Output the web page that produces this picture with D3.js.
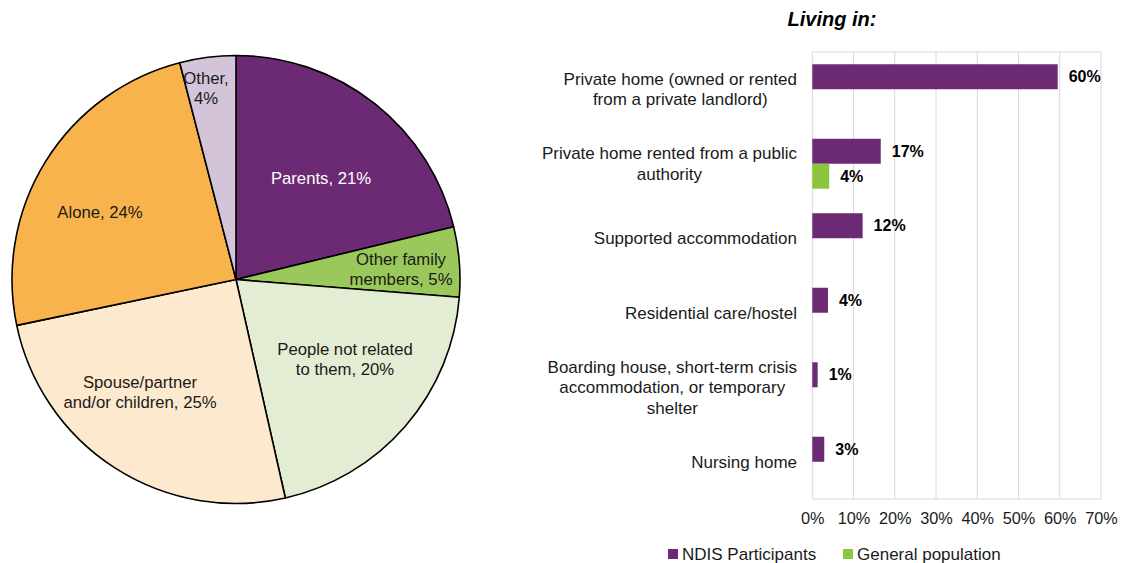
<!DOCTYPE html>
<html>
<head>
<meta charset="utf-8">
<script src="https://cdn.jsdelivr.net/npm/d3@7"></script>
<style>
  html, body { margin: 0; padding: 0; background: #fff; }
  svg { display: block; font-family: "Liberation Sans", Arial, sans-serif; }
</style>
</head>
<body>
<svg id="chart" width="1121" height="563"></svg>
<script>
// ---- Pie data ----
const pieLabels = [["Parents, 21%"], ["Other family", "members, 5%"], ["People not related", "to them, 20%"], ["Spouse/partner", "and/or children, 25%"], ["Alone, 24%"], ["Other,", "4%"]];
const pieValues = [21, 5, 20, 25, 24, 4];
const pieColors = ["#6B2A73", "#9BC85A", "#E3EDD4", "#FDE9CD", "#F9B34C", "#D4C4DA"];
const pieTextColors = ["#ffffff", "#1a1a1a", "#1a1a1a", "#1a1a1a", "#1a1a1a", "#1a1a1a"];

// ---- Bar data ----
const barCategories = [
  ["Private home (owned or rented", "from a private landlord)"],
  ["Private home rented from a public", "authority"],
  ["Supported accommodation"],
  ["Residential care/hostel"],
  ["Boarding house, short-term crisis", "accommodation, or temporary", "shelter"],
  ["Nursing home"]
];
const seriesNames = ["NDIS Participants", "General population"];
const ndisValues = [59.5, 16.6, 12.2, 3.8, 1.3, 2.9];
const generalValues = [null, 4.1, null, null, null, null];
const seriesColors = ["#6B2A73", "#8CC63F"];
const xTicks = [0, 10, 20, 30, 40, 50, 60, 70];
const chartTitle = "Living in:";

const svg = d3.select("#chart");

// ---------- PIE ----------
const cx = 236, cy = 279.5, R = 224;
const pie = d3.pie().sort(null).value(d => d)(pieValues);
const arc = d3.arc().innerRadius(0).outerRadius(R);
const gPie = svg.append("g").attr("transform", `translate(${cx},${cy})`);
gPie.selectAll("path").data(pie).join("path")
  .attr("d", arc)
  .attr("fill", (d, i) => pieColors[i])
  .attr("stroke", "#000")
  .attr("stroke-width", 1.6)
  .attr("stroke-linejoin", "round");

// label anchor spots (relative to pie centre)
const labelPos = [[321-cx, 178-cy], [401-cx, 269-cy], [345-cx, 359-cy], [140-cx, 392-cy], [100-cx, 212-cy], [206-cx, 88-cy]];
pie.forEach((d, i) => {
  const x = labelPos[i][0], y = labelPos[i][1];
  const lines = pieLabels[i];
  const lh = 19.5;
  const t = gPie.append("text")
    .attr("text-anchor", "middle")
    .attr("font-size", 16.7)
    .attr("fill", pieTextColors[i]);
  lines.forEach((ln, j) => {
    t.append("tspan")
      .attr("x", x)
      .attr("y", y + (j - (lines.length - 1) / 2) * lh)
      .attr("dy", "0.35em")
      .text(ln);
  });
});

// ---------- BAR ----------
const plot = { left: 812.3, right: 1101, top: 52, bottom: 499 };
const x = d3.scaleLinear().domain([0, 70]).range([plot.left, plot.right]);
const y = d3.scaleBand().domain(d3.range(barCategories.length)).range([plot.top, plot.bottom]).paddingInner(0.329).paddingOuter(0.1645);
const ySub = d3.scaleBand().domain([0, 1]).range([0, y.bandwidth()]);

const gBar = svg.append("g");
// gridlines
gBar.selectAll("line.grid").data(xTicks).join("line")
  .attr("x1", d => x(d)).attr("x2", d => x(d))
  .attr("y1", plot.top).attr("y2", plot.bottom)
  .attr("stroke", "#D9D9D9").attr("stroke-width", 1);
gBar.append("line").attr("x1", plot.left).attr("x2", plot.right).attr("y1", plot.top).attr("y2", plot.top).attr("stroke", "#D9D9D9");
gBar.append("line").attr("x1", plot.left).attr("x2", plot.right).attr("y1", plot.bottom).attr("y2", plot.bottom).attr("stroke", "#D9D9D9");

// x axis tick labels
const xAxis = d3.axisBottom(x).tickValues(xTicks).tickFormat(d => d + "%").tickSize(0).tickPadding(0);
const gx = gBar.append("g").attr("transform", `translate(0,${plot.bottom + 13})`).call(xAxis);
gx.select(".domain").remove();
gx.selectAll("text").attr("font-size", 16.3).attr("fill", "#1a1a1a").attr("font-family", "Liberation Sans, Arial, sans-serif");

// bars
const series = [ndisValues, generalValues];
const fmt = v => Math.round(v) + "%";
series.forEach((vals, s) => {
  vals.forEach((v, i) => {
    if (v == null) return;
    const by = y(i) + ySub(s);
    gBar.append("rect")
      .attr("x", x(0)).attr("y", by)
      .attr("width", x(v) - x(0)).attr("height", ySub.bandwidth())
      .attr("fill", seriesColors[s]);
    gBar.append("text")
      .attr("x", x(v) + 11).attr("y", by + ySub.bandwidth() / 2)
      .attr("dy", "0.35em")
      .attr("font-size", 16).attr("font-weight", "bold").attr("fill", "#000")
      .text(fmt(v));
  });
});

// category labels (centered lines, block right-aligned at 797)
barCategories.forEach((lines, i) => {
  const cyc = y(i) + y.bandwidth() / 2;
  const lh = 20.5;
  const t = gBar.append("text").attr("font-size", 17).attr("fill", "#1a1a1a").attr("text-anchor", "middle");
  const spans = lines.map((ln, j) => t.append("tspan")
    .attr("y", cyc + (j - (lines.length - 1) / 2) * lh)
    .attr("dy", "0.35em").text(ln));
  const maxW = d3.max(spans, sp => sp.node().getComputedTextLength());
  spans.forEach(sp => sp.attr("x", 797 - maxW / 2));
});

// title
svg.append("text").attr("x", 832).attr("y", 19).attr("dy", "0.35em")
  .attr("text-anchor", "middle").attr("font-size", 20).attr("font-weight", "bold").attr("font-style", "italic")
  .text(chartTitle);

// legend
const legendX = [668, 843];
seriesNames.forEach((n, s) => {
  svg.append("rect").attr("x", legendX[s]).attr("y", 549).attr("width", 10).attr("height", 10).attr("fill", seriesColors[s]);
  svg.append("text").attr("x", legendX[s] + 14).attr("y", 554).attr("dy", "0.35em")
    .attr("font-size", 17).attr("fill", "#1a1a1a").text(n);
});
</script>
</body>
</html>
